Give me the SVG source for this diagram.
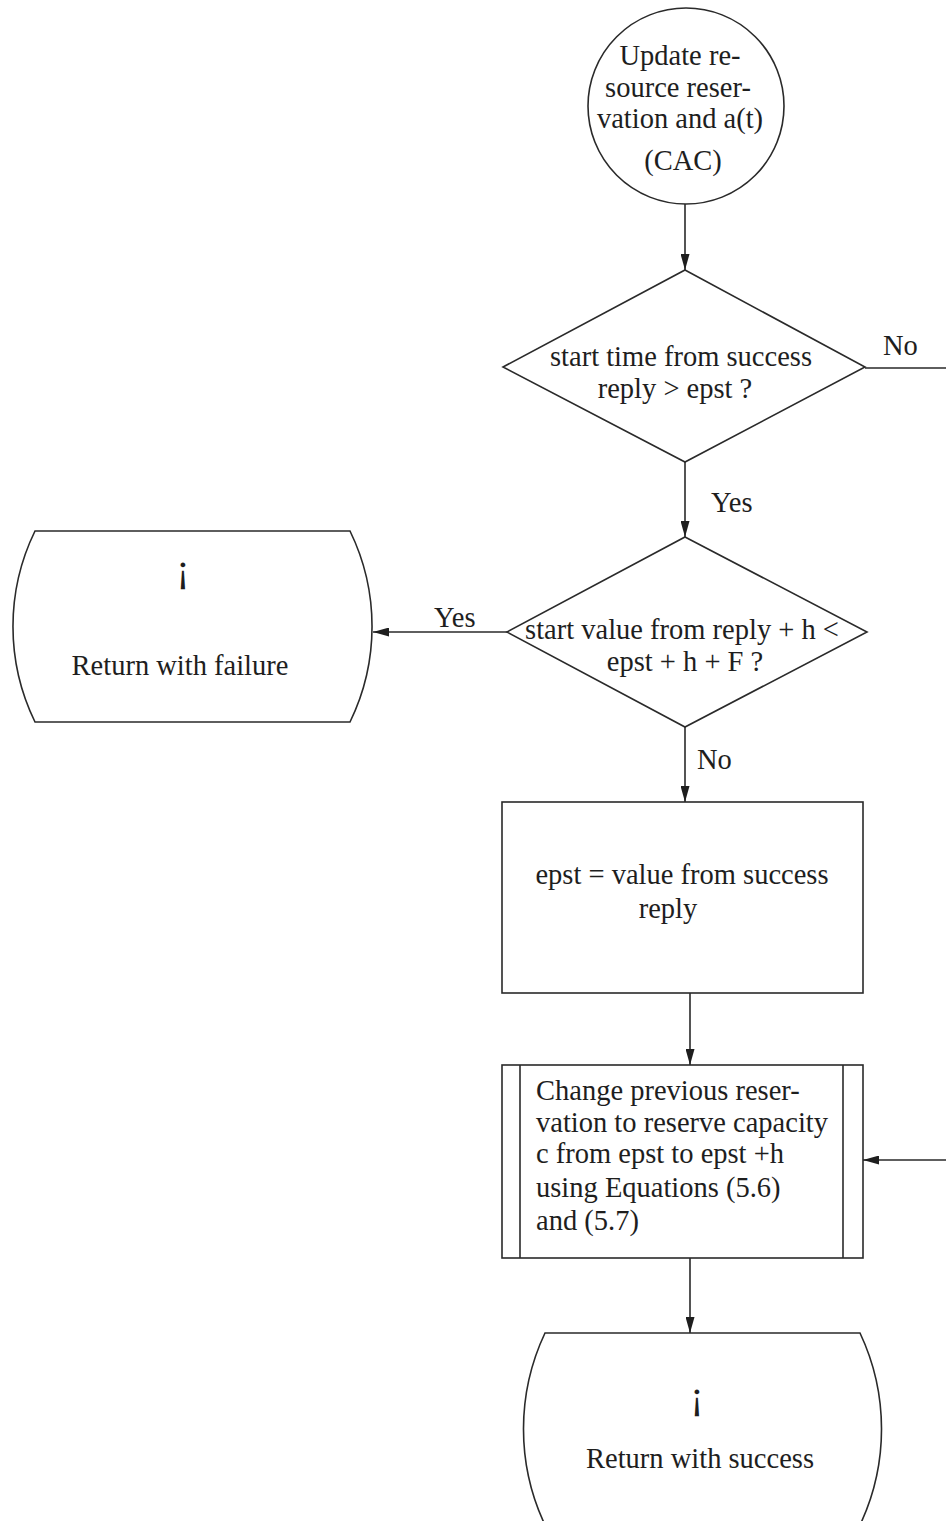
<svg xmlns="http://www.w3.org/2000/svg" width="946" height="1521" viewBox="0 0 946 1521">
  <style>
    .shape { fill: #ffffff; stroke: #2a2a2a; stroke-width: 1.6; }
    .edge { fill: none; stroke: #2a2a2a; stroke-width: 1.6; }
    .txt { font-family: "Liberation Serif", "Times New Roman", serif; font-size: 28.5px; fill: #1e1e1e; }
    .mid { text-anchor: middle; }
    .mark { font-family: "Liberation Serif", "Times New Roman", serif; font-size: 40px; fill: #1e1e1e; text-anchor: middle; }
  </style>
  <defs>
    <marker id="arrow" viewBox="0 0 16 9" refX="16" refY="4.5" markerWidth="16" markerHeight="9" markerUnits="userSpaceOnUse" orient="auto">
      <path d="M0,0 L16,4.5 L0,9 Z" fill="#1e1e1e"/>
    </marker>
  </defs>
  <rect width="946" height="1521" fill="#ffffff"/>

  <!-- connectors -->
  <g id="connectors">
    <path class="edge" d="M685,204 L685,270" marker-end="url(#arrow)"/>
    <path class="edge" d="M685,462 L685,537" marker-end="url(#arrow)"/>
    <path class="edge" d="M507,632 L373,632" marker-end="url(#arrow)"/>
    <path class="edge" d="M685,727 L685,802" marker-end="url(#arrow)"/>
    <path class="edge" d="M690,993 L690,1065" marker-end="url(#arrow)"/>
    <path class="edge" d="M690,1258 L690,1333" marker-end="url(#arrow)"/>
    <path class="edge" d="M865,368 L952,368 L952,1160 L863,1160" marker-end="url(#arrow)"/>
    <text class="txt" x="883" y="355">No</text>
    <text class="txt" x="711" y="512">Yes</text>
    <text class="txt" x="434" y="627">Yes</text>
    <text class="txt" x="697" y="769">No</text>
  </g>

  <!-- start: update reservation -->
  <g id="node-update">
    <circle class="shape" cx="686" cy="106" r="98"/>
    <text class="txt mid" x="680" y="65">Update re-</text>
    <text class="txt mid" x="678" y="97">source reser-</text>
    <text class="txt mid" x="680" y="128">vation and a(t)</text>
    <text class="txt mid" x="683" y="170">(CAC)</text>
  </g>

  <!-- decision: start time -->
  <g id="node-start-time">
    <polygon class="shape" points="685,270 865,367 685,462 503,367"/>
    <text class="txt mid" x="681" y="366">start time from success</text>
    <text class="txt mid" x="675" y="398">reply &gt; epst ?</text>
  </g>

  <!-- decision: start value -->
  <g id="node-start-value">
    <polygon class="shape" points="685,537 867,632 685,727 507,632"/>
    <text class="txt mid" x="682" y="639">start value from reply + h &lt;</text>
    <text class="txt mid" x="685" y="671">epst + h + F ?</text>
  </g>

  <!-- terminal: failure -->
  <g id="node-failure">
    <path class="shape" d="M35,531 L350,531 A218,218 0 0 1 350,722 L35,722 A218,218 0 0 1 35,531 Z"/>
    <text class="mark" x="183" y="582">¡</text>
    <text class="txt mid" x="180" y="675">Return with failure</text>
  </g>

  <!-- process: update epst -->
  <g id="node-epst">
    <rect class="shape" x="502" y="802" width="361" height="191"/>
    <text class="txt mid" x="682" y="884">epst = value from success</text>
    <text class="txt mid" x="668" y="918">reply</text>
  </g>

  <!-- predefined process: change reservation -->
  <g id="node-change">
    <rect class="shape" x="502" y="1065" width="361" height="193"/>
    <line class="edge" x1="520" y1="1065" x2="520" y2="1258"/>
    <line class="edge" x1="843" y1="1065" x2="843" y2="1258"/>
    <text class="txt" x="536" y="1100">Change previous reser-</text>
    <text class="txt" x="536" y="1132">vation to reserve capacity</text>
    <text class="txt" x="536" y="1163">c from epst to epst +h</text>
    <text class="txt" x="536" y="1197">using Equations (5.6)</text>
    <text class="txt" x="536" y="1230">and (5.7)</text>
  </g>

  <!-- terminal: success -->
  <g id="node-success">
    <path class="shape" d="M545,1333 L860,1333 A225,225 0 0 1 860,1525 L545,1525 A225,225 0 0 1 545,1333 Z"/>
    <text class="mark" x="697" y="1409">¡</text>
    <text class="txt mid" x="700" y="1468">Return with success</text>
  </g>
</svg>
